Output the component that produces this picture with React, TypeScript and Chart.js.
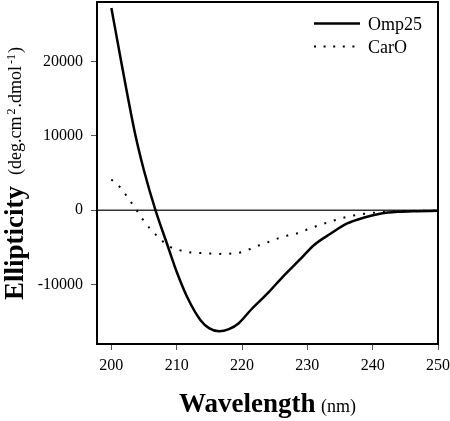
import React, { useEffect, useRef } from "react";
import { Chart, registerables } from "chart.js";

Chart.register(...registerables);

const omp25Wavelength = [200, 201.5, 203.7, 205, 206.75, 208.5, 210.1, 211.6, 213.65, 215, 216.5, 218, 219.5, 221.3, 223.9, 226.2, 228.8, 231, 233.6, 236.1, 238.7, 241.3, 243.8, 246.4, 250];
const omp25Values = [27200, 20000, 10000, 5300, 0, -4480, -8520, -11670, -14800, -15900, -16290, -16000, -15200, -13460, -11200, -9000, -6700, -4710, -3140, -1790, -990, -450, -220, -130, -90];

const caroWavelength = [200, 201.5, 202.6, 203.7, 204.7, 205.9, 207.3, 208.7, 210.3, 211.9, 213.4, 214.9, 216.4, 217.9, 219.4, 221.0, 222.4, 224.0, 225.5, 227, 228.5, 230, 231.5, 233.1, 234.6, 236.1, 237.6, 239.1, 240.6, 243, 246, 250];
const caroValues = [4130, 2920, 1570, 230, -1120, -2460, -3720, -4800, -5340, -5650, -5750, -5830, -5880, -5850, -5750, -5300, -4800, -4300, -3800, -3400, -3100, -2600, -2110, -1660, -1250, -900, -630, -450, -310, -180, -100, -60];

const xTicks = [200, 210, 220, 230, 240, 250];
const yTicks = [-10000, 0, 10000, 20000];
const seriesNames = ["Omp25", "CarO"];

const SERIF = "'Liberation Serif', 'Times New Roman', serif";

const decorPlugin = {
  id: "decor",
  beforeDatasetsDraw(chart: any) {
    const { ctx, chartArea, scales } = chart;
    const y0 = scales.y.getPixelForValue(0);
    ctx.save();
    ctx.strokeStyle = "#333";
    ctx.lineWidth = 1.5;
    ctx.beginPath();
    ctx.moveTo(chartArea.left, y0);
    ctx.lineTo(chartArea.right, y0);
    ctx.stroke();
    ctx.restore();
  },
  afterDraw(chart: any) {
    const { ctx, chartArea } = chart;
    ctx.save();
    // plot box
    ctx.strokeStyle = "#000";
    ctx.lineWidth = 2;
    ctx.strokeRect(chartArea.left, chartArea.top, chartArea.right - chartArea.left, chartArea.bottom - chartArea.top);

    // legend
    ctx.fillStyle = "#000";
    ctx.font = `18px ${SERIF}`;
    ctx.textBaseline = "alphabetic";
    ctx.textAlign = "left";
    ctx.lineWidth = 2.5;
    ctx.strokeStyle = "#000";
    ctx.beginPath();
    ctx.moveTo(314, 23.5);
    ctx.lineTo(360, 23.5);
    ctx.stroke();
    ctx.fillText(seriesNames[0], 368, 30);
    ctx.lineWidth = 2;
    ctx.setLineDash([2, 7.6]);
    ctx.beginPath();
    ctx.moveTo(314, 46.5);
    ctx.lineTo(358, 46.5);
    ctx.stroke();
    ctx.setLineDash([]);
    ctx.fillText(seriesNames[1], 368, 53);

    // x title
    ctx.font = `bold 27px ${SERIF}`;
    ctx.fillText("Wavelength", 179, 412);
    ctx.font = `18px ${SERIF}`;
    ctx.fillText("(nm)", 321, 412);

    // y title
    ctx.translate(23, 300);
    ctx.rotate(-Math.PI / 2);
    ctx.font = `bold 27px ${SERIF}`;
    ctx.fillText("Ellipticity", 0, 0);
    let x = ctx.measureText("Ellipticity").width + 11;
    const parts: [string, boolean][] = [["(deg.cm", false], ["2", true], [".dmol", false], ["-1", true], [")", false]];
    for (const [t, sup] of parts) {
      ctx.font = sup ? `12px ${SERIF}` : `18px ${SERIF}`;
      ctx.fillText(t, x + (sup ? 2 : 0), sup ? -8 : -2);
      x += ctx.measureText(t).width + (sup ? 3 : 0);
    }
    ctx.restore();
  },
};

export default function App() {
  const ref = useRef<HTMLCanvasElement | null>(null);
  useEffect(() => {
    document.body.style.margin = "0";
    const canvas = ref.current!;
    const chart = new Chart(canvas, {
      type: "line",
      data: {
        datasets: [
          {
            label: seriesNames[0],
            data: omp25Wavelength.map((w, i) => ({ x: w, y: omp25Values[i] })),
            borderColor: "#000",
            borderWidth: 2.5,
            pointRadius: 0,
            cubicInterpolationMode: "monotone",
            fill: false,
          },
          {
            label: seriesNames[1],
            data: caroWavelength.map((w, i) => ({ x: w, y: caroValues[i] })),
            borderColor: "#000",
            borderWidth: 2,
            borderDash: [2, 8],
            pointRadius: 0,
            cubicInterpolationMode: "monotone",
            fill: false,
          },
        ],
      },
      options: {
        animation: false,
        responsive: false,
        devicePixelRatio: 1,
        layout: { padding: { top: 2, right: 12, left: 0, bottom: 0 } },
        plugins: { legend: { display: false }, tooltip: { enabled: false } },
        scales: {
          x: {
            type: "linear",
            min: 197.8,
            max: 250,
            afterBuildTicks: (s: any) => { s.ticks = xTicks.map((v) => ({ value: v })); },
            afterFit: (s: any) => { s.height = 77; s.paddingLeft = 0; s.paddingRight = 0; s.paddingTop = 0; s.paddingBottom = 0; },
            grid: { drawOnChartArea: false, drawTicks: true, tickLength: 6, color: "#555", lineWidth: 1 },
            border: { display: false },
            ticks: { font: { family: SERIF, size: 16 }, color: "#000", padding: 6, maxRotation: 0, callback: (v: any) => String(v) },
          },
          y: {
            type: "linear",
            min: -18000,
            max: 28000,
            afterBuildTicks: (s: any) => { s.ticks = yTicks.map((v) => ({ value: v })); },
            afterFit: (s: any) => { s.width = 97; s.paddingLeft = 0; s.paddingRight = 0; s.paddingTop = 0; s.paddingBottom = 0; },
            grid: { drawOnChartArea: false, drawTicks: true, tickLength: 6, color: "#555", lineWidth: 1 },
            border: { display: false },
            ticks: { font: { family: SERIF, size: 16 }, color: "#000", padding: 8, callback: (v: any) => String(v) },
          },
        },
      },
      plugins: [decorPlugin],
    } as any);
    return () => chart.destroy();
  }, []);
  return (
    <div style={{ position: "absolute", left: 0, top: 0, width: 450, height: 421, background: "#fff" }}>
      <canvas ref={ref} width={450} height={421} />
    </div>
  );
}
